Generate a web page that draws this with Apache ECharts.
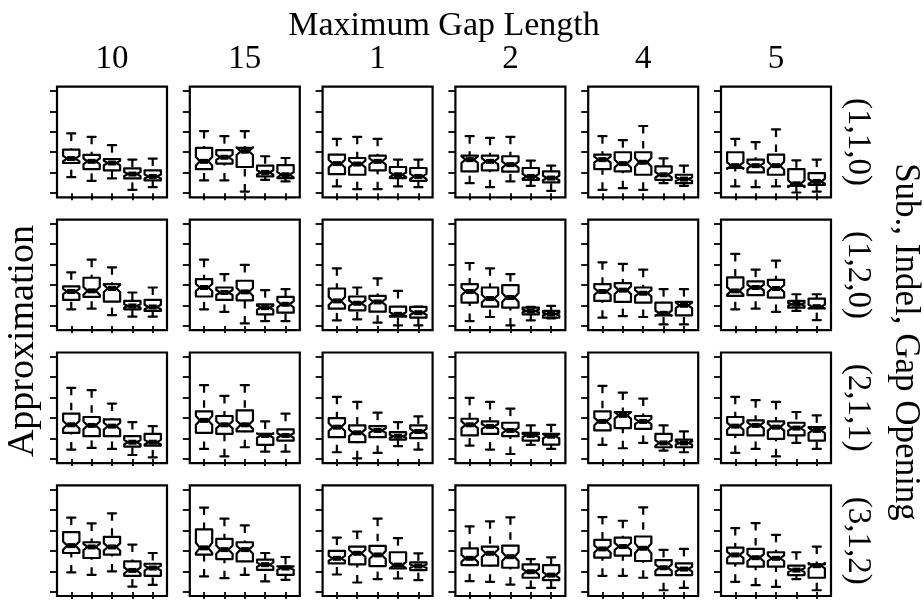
<!DOCTYPE html>
<html>
<head>
<meta charset="utf-8">
<script src="https://cdn.jsdelivr.net/npm/echarts@6/dist/echarts.min.js"></script>
<style>
  html, body { margin: 0; padding: 0; background: #fff; }
  #chart { width: 924px; height: 605px; }
</style>
</head>
<body>
<div id="chart"></div>
<script>
// Panel columns: maximum gap length; panel rows: substitution/indel/gap-opening costs.
const gapLengths = ['10', '15', '1', '2', '4', '5'];
const costSettings = ['(1,1,0)', '(1,2,0)', '(2,1,1)', '(3,1,2)'];
const yTicks = [0, 0.2, 0.4, 0.6, 0.8, 1];
const groupTicks = [1, 2, 3, 4, 5];

// Notch half-height = 1.58 * IQR / sqrt(n)
const sampleSize = 62;

// Five-number summaries [lower whisker, Q1, median, Q3, upper whisker], five groups per panel.
// Row (1,1,0)
const c110_g10 = [[0.157,0.295,0.338,0.426,0.584],[0.121,0.236,0.311,0.374,0.551],[0.144,0.223,0.295,0.334,0.469],[0.033,0.144,0.187,0.243,0.328],[0.059,0.125,0.164,0.223,0.338]];
const c110_g15 = [[0.125,0.236,0.311,0.443,0.607],[0.125,0.289,0.351,0.420,0.557],[0.016,0.256,0.410,0.443,0.607],[0.131,0.164,0.203,0.269,0.361],[0.115,0.148,0.180,0.275,0.344]];
const c110_g1  = [[0.066,0.187,0.289,0.377,0.531],[0.039,0.180,0.285,0.344,0.551],[0.039,0.223,0.311,0.367,0.531],[0.066,0.148,0.180,0.256,0.328],[0.059,0.121,0.164,0.246,0.328]];
const c110_g2  = [[0.098,0.213,0.328,0.367,0.557],[0.059,0.223,0.311,0.367,0.541],[0.115,0.210,0.279,0.361,0.551],[0.072,0.131,0.164,0.246,0.318],[0.023,0.105,0.148,0.213,0.269]];
const c110_g4  = [[0.033,0.236,0.328,0.377,0.557],[0.049,0.213,0.289,0.400,0.518],[0.033,0.180,0.302,0.400,0.656],[0.098,0.131,0.180,0.262,0.341],[0.072,0.098,0.138,0.180,0.269]];
const c110_g5  = [[0.066,0.246,0.269,0.400,0.531],[0.059,0.203,0.269,0.328,0.498],[0.066,0.180,0.269,0.377,0.623],[0.007,0.072,0.092,0.236,0.321],[0.016,0.082,0.115,0.197,0.328]];
// Row (1,2,0)
const c120_g10 = [[0.164,0.256,0.338,0.387,0.525],[0.170,0.285,0.344,0.472,0.649],[0.108,0.239,0.367,0.410,0.574],[0.092,0.164,0.197,0.246,0.328],[0.092,0.148,0.187,0.256,0.377]];
const c120_g15 = [[0.164,0.289,0.377,0.459,0.649],[0.138,0.256,0.328,0.377,0.508],[0.026,0.252,0.334,0.443,0.597],[0.049,0.115,0.180,0.213,0.351],[0.049,0.131,0.213,0.285,0.361]];
const c120_g1  = [[0.056,0.170,0.246,0.367,0.564],[0.066,0.154,0.223,0.289,0.377],[0.033,0.141,0.236,0.295,0.466],[0.007,0.092,0.115,0.190,0.344],[0.007,0.082,0.131,0.187,0.190]];
const c120_g2  = [[0.049,0.230,0.338,0.410,0.616],[0.089,0.190,0.269,0.377,0.564],[0.007,0.180,0.279,0.400,0.508],[0.056,0.115,0.148,0.180,0.187],[0.075,0.082,0.118,0.148,0.197]];
const c120_g4  = [[0.082,0.246,0.338,0.410,0.623],[0.098,0.236,0.351,0.420,0.607],[0.089,0.230,0.321,0.377,0.551],[0.016,0.105,0.125,0.230,0.361],[0.016,0.105,0.203,0.236,0.361]];
const c120_g5  = [[0.164,0.295,0.344,0.475,0.705],[0.170,0.302,0.377,0.436,0.551],[0.138,0.279,0.367,0.452,0.639],[0.148,0.180,0.213,0.246,0.311],[0.059,0.174,0.190,0.269,0.311]];
// Row (2,1,1)
const c211_g10 = [[0.092,0.256,0.334,0.443,0.695],[0.108,0.223,0.328,0.410,0.672],[0.098,0.223,0.321,0.387,0.541],[0.039,0.121,0.164,0.223,0.361],[0.016,0.131,0.164,0.246,0.321]];
const c211_g15 = [[0.098,0.256,0.377,0.466,0.721],[0.026,0.246,0.334,0.420,0.616],[0.115,0.269,0.334,0.475,0.721],[0.072,0.138,0.230,0.246,0.367],[0.072,0.180,0.230,0.289,0.443]];
const c211_g1  = [[0.066,0.213,0.311,0.400,0.607],[0.007,0.164,0.256,0.328,0.557],[0.059,0.213,0.279,0.321,0.452],[0.125,0.190,0.223,0.262,0.361],[0.092,0.203,0.269,0.328,0.416]];
const c211_g2  = [[0.131,0.230,0.334,0.393,0.597],[0.092,0.246,0.318,0.367,0.557],[0.049,0.223,0.279,0.354,0.492],[0.138,0.180,0.230,0.256,0.328],[0.098,0.141,0.223,0.246,0.334]];
const c211_g4  = [[0.138,0.279,0.367,0.466,0.715],[0.105,0.302,0.426,0.459,0.649],[0.157,0.295,0.367,0.420,0.590],[0.082,0.115,0.157,0.246,0.328],[0.066,0.115,0.157,0.190,0.269]];
const c211_g5  = [[0.059,0.236,0.321,0.410,0.607],[0.098,0.230,0.328,0.377,0.574],[0.026,0.197,0.311,0.367,0.557],[0.157,0.230,0.302,0.354,0.459],[0.098,0.180,0.279,0.311,0.426]];
// Row (3,1,2)
const c312_g10 = [[0.190,0.380,0.452,0.584,0.725],[0.167,0.331,0.439,0.485,0.669],[0.200,0.364,0.439,0.538,0.767],[0.052,0.157,0.210,0.298,0.462],[0.069,0.157,0.233,0.275,0.380]];
const c312_g15 = [[0.151,0.364,0.430,0.610,0.823],[0.134,0.321,0.413,0.518,0.715],[0.167,0.298,0.413,0.485,0.649],[0.102,0.216,0.266,0.315,0.380],[0.118,0.167,0.233,0.249,0.341]];
const c312_g1  = [[0.170,0.279,0.328,0.400,0.531],[0.092,0.269,0.377,0.443,0.590],[0.125,0.252,0.361,0.449,0.715],[0.131,0.230,0.262,0.387,0.525],[0.115,0.213,0.252,0.289,0.377]];
const c312_g2  = [[0.105,0.262,0.328,0.426,0.639],[0.098,0.256,0.377,0.443,0.689],[0.072,0.236,0.344,0.452,0.728],[0.039,0.138,0.197,0.269,0.321],[0.039,0.115,0.164,0.262,0.338]];
const c312_g4  = [[0.157,0.334,0.420,0.508,0.731],[0.157,0.354,0.443,0.531,0.695],[0.138,0.302,0.426,0.541,0.826],[0.016,0.164,0.236,0.311,0.410],[0.039,0.164,0.223,0.279,0.420]];
const c312_g5  = [[0.098,0.279,0.361,0.433,0.623],[0.066,0.246,0.334,0.420,0.672],[0.049,0.246,0.328,0.387,0.557],[0.125,0.164,0.213,0.256,0.387],[0.016,0.138,0.256,0.269,0.443]];

const panelRows = [
  [c110_g10, c110_g15, c110_g1, c110_g2, c110_g4, c110_g5],
  [c120_g10, c120_g15, c120_g1, c120_g2, c120_g4, c120_g5],
  [c211_g10, c211_g15, c211_g1, c211_g2, c211_g4, c211_g5],
  [c312_g10, c312_g15, c312_g1, c312_g2, c312_g4, c312_g5]
];

// Layout of the 6 x 4 panel lattice (pixels)
const PANEL_LEFT = 57, PANEL_TOP = 86.7, PANEL_W = 110, PANEL_H = 110.6, STEP_X = 132.8, STEP_Y = 132.9;
const FAMILY = '"Liberation Serif", "Times New Roman", serif';
const INK = '#000';
const LW = 2.2;

function renderBox(params, api) {
  const x = api.value(0);
  const lo = api.value(1), q1 = api.value(2), med = api.value(3), q3 = api.value(4), hi = api.value(5);
  const ci = 1.58 * (q3 - q1) / Math.sqrt(sampleSize);
  const hw = 0.4, notchFrac = 0.5, staple = 0.5;
  const c = (px, py) => api.coord([px, py]);
  const outline = [
    [x - hw, q1], [x + hw, q1], [x + hw, med - ci], [x + hw * notchFrac, med], [x + hw, med + ci],
    [x + hw, q3], [x - hw, q3], [x - hw, med + ci], [x - hw * notchFrac, med], [x - hw, med - ci]
  ].map(p => c(p[0], p[1]));
  const seg = (a, b, style) => ({
    type: 'line',
    shape: { x1: a[0], y1: a[1], x2: b[0], y2: b[1] },
    style: Object.assign({ stroke: INK, lineWidth: LW, lineCap: 'round' }, style || {})
  });
  const dash = { lineDash: [7.5, 7.5], lineCap: 'butt' };
  return {
    type: 'group',
    children: [
      seg(c(x, lo), c(x, q1), dash),
      seg(c(x, hi), c(x, q3), dash),
      seg(c(x - hw * staple, lo), c(x + hw * staple, lo)),
      seg(c(x - hw * staple, hi), c(x + hw * staple, hi)),
      {
        type: 'polygon',
        shape: { points: outline },
        style: { fill: 'none', stroke: INK, lineWidth: LW, lineJoin: 'round' }
      },
      seg(c(x - hw * notchFrac, med), c(x + hw * notchFrac, med), { lineWidth: 5, lineCap: 'butt' })
    ]
  };
}

const grids = [], xAxes = [], yAxes = [], series = [];
panelRows.forEach((row, r) => {
  row.forEach((boxes, col) => {
    const idx = grids.length;
    grids.push({
      left: PANEL_LEFT + col * STEP_X,
      top: PANEL_TOP + r * STEP_Y,
      width: PANEL_W,
      height: PANEL_H,
      show: true,
      borderColor: INK,
      borderWidth: 2.2,
      backgroundColor: 'transparent'
    });
    xAxes.push({
      gridIndex: idx, type: 'value', min: 0.3, max: 5.7,
      axisLine: { show: false }, splitLine: { show: false },
      axisLabel: { show: false, customValues: groupTicks },
      axisTick: { show: true, inside: false, length: 7, customValues: groupTicks,
                  lineStyle: { color: INK, width: 1.8 } }
    });
    yAxes.push({
      gridIndex: idx, type: 'value', min: -0.04, max: 1.04,
      axisLine: { show: false }, splitLine: { show: false },
      axisLabel: { show: false, customValues: yTicks },
      axisTick: { show: true, inside: false, length: 7, customValues: yTicks,
                  lineStyle: { color: INK, width: 1.8 } }
    });
    series.push({
      type: 'custom',
      xAxisIndex: idx, yAxisIndex: idx,
      renderItem: renderBox,
      encode: { x: 0, y: [1, 2, 3, 4, 5] },
      data: boxes.map((b, i) => [groupTicks[i]].concat(b)),
      clip: false,
      silent: true
    });
  });
});

function label(text, x, y, size, rotation) {
  return {
    type: 'text', x: x, y: y, rotation: rotation || 0,
    style: { text: text, font: size + 'px ' + FAMILY, fill: INK,
             align: 'center', verticalAlign: 'middle',
             textAlign: 'center', textVerticalAlign: 'middle' }
  };
}

// Title centred over the panel block
const blockCenterX = PANEL_LEFT + (5 * STEP_X + PANEL_W) / 2;
const graphics = [label('Maximum Gap Length', blockCenterX, 26, 34)];
gapLengths.forEach((g, col) => graphics.push(label(g, PANEL_LEFT + col * STEP_X + PANEL_W / 2, 59, 33)));
costSettings.forEach((s, r) => graphics.push(label(s, 858, PANEL_TOP + r * STEP_Y + PANEL_H / 2, 33, -Math.PI / 2)));
graphics.push(label('Sub., Indel, Gap Opening', 905, 342, 35, -Math.PI / 2));
graphics.push(label('Approximation', 23, 341, 38, Math.PI / 2));

const chart = echarts.init(document.getElementById('chart'), null, { renderer: 'canvas' });
chart.setOption({
  animation: false,
  backgroundColor: '#fff',
  grid: grids,
  xAxis: xAxes,
  yAxis: yAxes,
  series: series,
  graphic: graphics
});
</script>
</body>
</html>
